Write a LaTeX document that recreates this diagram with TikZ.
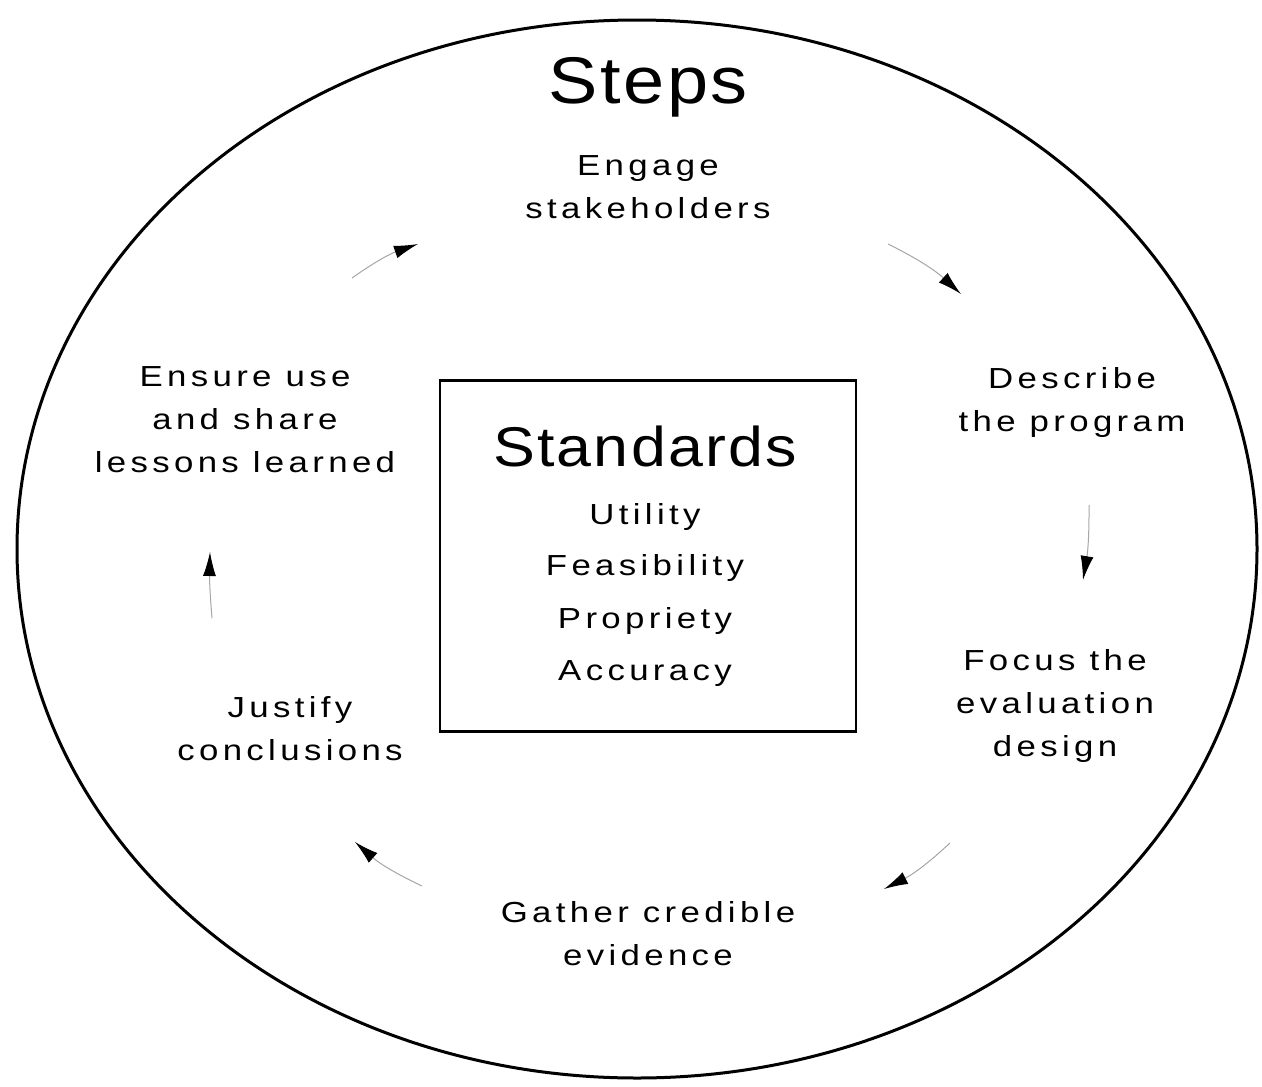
\documentclass[tikz,border=0pt]{standalone}
\usepackage{fontspec}
\setmainfont{Liberation Sans}[FakeStretch=1.12,LetterSpace=4]
\newfontfamily\smallfam{Liberation Sans}[FakeStretch=1.2,LetterSpace=15]
\usetikzlibrary{arrows.meta,shapes.geometric}
\begin{document}
\begin{tikzpicture}[x=1pt,y=-1pt,
  lbl/.style={align=center,font=\smallfam\fontsize{29}{43}\selectfont,inner sep=0pt},
  std/.style={font=\smallfam\fontsize{29}{29}\selectfont,inner sep=0pt},
  cyc/.style={draw=black!35,line width=1pt,-{Latex[length=24pt,width=13pt,black]}}]
\useasboundingbox (0,0) rectangle (1262,1087);
\node[draw,line width=3pt,ellipse,minimum width=1240pt,minimum height=1058pt,inner sep=0pt] (outer) at (637,549) {};
\node[draw,line width=2.5pt,minimum width=416pt,minimum height=351pt,inner sep=0pt] (box) at (648,556) {};
\node[font=\fontsize{66}{66}\selectfont,inner sep=0pt] (steps) at (648,87) {Steps};
\node[font=\fontsize{56}{56}\selectfont,inner sep=0pt] (stdt) at (645,446) {Standards};
\node[std] (u) at (645,517) {Utility};
\node[std] (f) at (645,568) {Feasibility};
\node[std] (p) at (645,621) {Propriety};
\node[std] (a) at (645,674) {Accuracy};
\node[lbl] (s1) at (648,187) {Engage\\stakeholders};
\node[lbl] (s2) at (1072,402) {Describe\\the program};
\node[lbl] (s3) at (1055,706) {Focus the\\evaluation\\design};
\node[lbl] (s4) at (648,934) {Gather credible\\evidence};
\node[lbl] (s5) at (290,729) {Justify\\conclusions};
\node[lbl] (s6) at (245,420) {Ensure use\\and share\\lessons learned};
\coordinate (a1s) at (352,278); \coordinate (a1e) at (418,244);
\coordinate (a2s) at (888,244); \coordinate (a2e) at (961,294);
\coordinate (a3s) at (1089,505); \coordinate (a3e) at (1083,580);
\coordinate (a4s) at (950,843); \coordinate (a4e) at (884,889);
\coordinate (a5s) at (422,886); \coordinate (a5e) at (355,842);
\coordinate (a6s) at (212,618); \coordinate (a6e) at (210,552);
\draw[cyc] (a1s) to[bend left=8] (a1e);
\draw[cyc] (a2s) to[bend left=8] (a2e);
\draw[cyc] (a3s) to[bend left=5] (a3e);
\draw[cyc] (a4s) to[bend left=8] (a4e);
\draw[cyc] (a5s) to[bend left=8] (a5e);
\draw[cyc] (a6s) to[bend left=3] (a6e);
\end{tikzpicture}
\end{document}
